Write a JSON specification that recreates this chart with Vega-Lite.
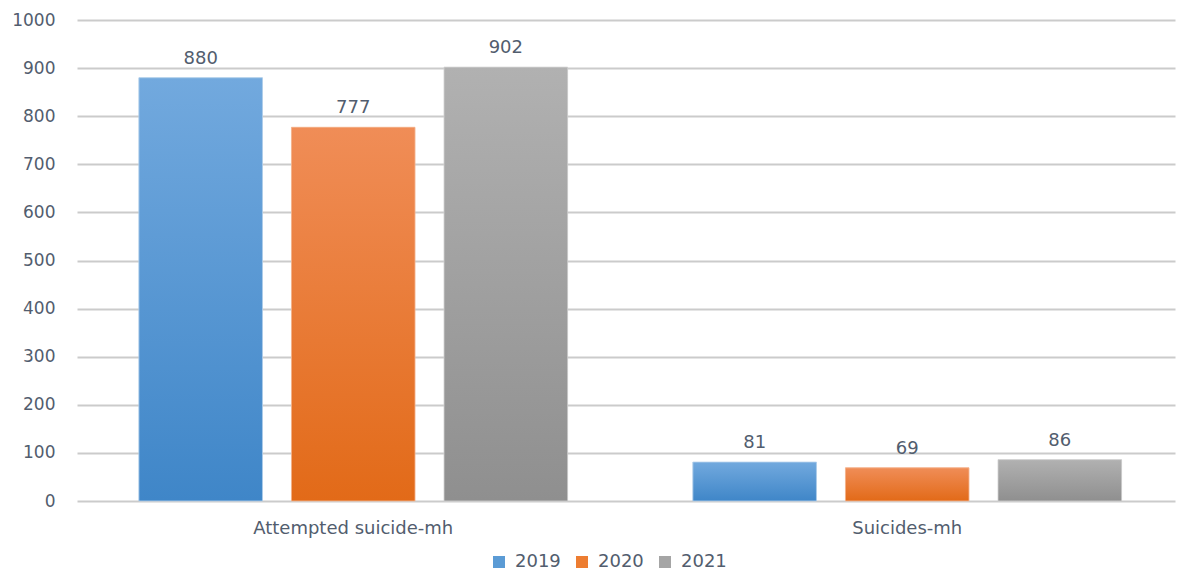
{
  "$schema": "https://vega.github.io/schema/vega-lite/v6.json",
  "width": 1098,
  "height": 481,
  "autosize": {"type": "none"},
  "padding": {"left": 77, "top": 20, "right": 7, "bottom": 74},
  "config": {
    "view": {"stroke": null},
    "font": "DejaVu Sans",
    "axis": {"labelColor": "#525d6e", "labelFontSize": 17, "titleColor": "#525d6e"}
  },
  "data": {
    "values": [
      {"category": "Attempted suicide-mh", "year": "2019", "value": 880},
      {"category": "Attempted suicide-mh", "year": "2020", "value": 777},
      {"category": "Attempted suicide-mh", "year": "2021", "value": 902},
      {"category": "Suicides-mh", "year": "2019", "value": 81},
      {"category": "Suicides-mh", "year": "2020", "value": 69},
      {"category": "Suicides-mh", "year": "2021", "value": 86}
    ]
  },
  "encoding": {
    "x": {
      "field": "category", "type": "nominal", "sort": null,
      "scale": {"paddingInner": 0.171, "paddingOuter": 0.0765, "align": 0.55},
      "axis": {"title": null, "labelAngle": 0, "ticks": false, "domain": false, "labelPadding": 18, "labelFontSize": 18, "labelLimit": 0}
    },
    "xOffset": {"field": "year", "type": "nominal", "scale": {"paddingInner": 0.19, "paddingOuter": 0.1}},
    "y": {
      "field": "value", "type": "quantitative",
      "scale": {"domain": [0, 1000]},
      "axis": {"title": null, "format": "d", "values": [0,100,200,300,400,500,600,700,800,900,1000], "ticks": false, "domain": false, "labelPadding": 22, "gridColor": "#cbcbcb", "gridWidth": 2, "labelFontSize": 17}
    }
  },
  "layer": [
    {
      "mark": {"type": "bar"},
      "encoding": {
        "color": {
          "field": "year", "type": "nominal",
          "scale": {"domain": ["2019", "2020", "2021"], "range": ["#5b9bd5", "#ed7d31", "#a5a5a5"]},
          "legend": {
            "title": null, "orient": "none", "direction": "horizontal",
            "legendX": 413, "legendY": 533,
            "symbolType": "square", "symbolSize": 144, "symbolStrokeWidth": 0,
            "labelFontSize": 18, "labelColor": "#525d6e", "columnPadding": 12, "labelOffset": 7
          }
        }
      }
    },
    {
      "transform": [{"filter": "datum.year == '2019'"}],
      "mark": {"type": "bar", "stroke": "#b9d3ec", "strokeWidth": 0.8, "color": {"gradient": "linear", "x1": 0, "y1": 0, "x2": 0, "y2": 1, "stops": [{"offset": 0, "color": "#72a9de"}, {"offset": 1, "color": "#3f86c8"}]}}
    },
    {
      "transform": [{"filter": "datum.year == '2020'"}],
      "mark": {"type": "bar", "stroke": "#f5bb9a", "strokeWidth": 0.8, "color": {"gradient": "linear", "x1": 0, "y1": 0, "x2": 0, "y2": 1, "stops": [{"offset": 0, "color": "#f08d57"}, {"offset": 1, "color": "#e26a18"}]}}
    },
    {
      "transform": [{"filter": "datum.year == '2021'"}],
      "mark": {"type": "bar", "stroke": "#d0d0d0", "strokeWidth": 0.8, "color": {"gradient": "linear", "x1": 0, "y1": 0, "x2": 0, "y2": 1, "stops": [{"offset": 0, "color": "#b1b1b1"}, {"offset": 1, "color": "#8f8f8f"}]}}
    },
    {
      "mark": {"type": "text", "baseline": "bottom", "dy": -10, "fontSize": 18, "color": "#525d6e"},
      "encoding": {"text": {"field": "value", "type": "quantitative"}}
    }
  ]
}
